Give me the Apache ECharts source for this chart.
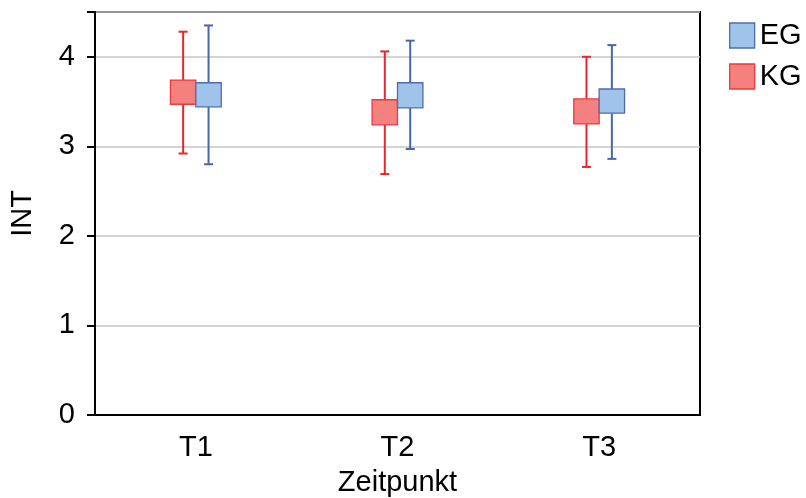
<!DOCTYPE html>
<html>
<head>
<meta charset="utf-8">
<script src="https://cdn.jsdelivr.net/npm/echarts@6/dist/echarts.min.js"></script>
<style>
html,body{margin:0;padding:0;background:#fff;}
#chart{width:806px;height:498px;}
</style>
</head>
<body>
<div id="chart"></div>
<script>
var categories = ['T1', 'T2', 'T3'];
var yTicks = [0, 1, 2, 3, 4];
// KG (Kontrollgruppe): box low/high, whisker low/high
var kgBoxLow = [3.47, 3.24, 3.25];
var kgBoxHigh = [3.74, 3.52, 3.53];
var kgWhiskerLow = [2.92, 2.69, 2.77];
var kgWhiskerHigh = [4.28, 4.06, 4.00];
// EG (Experimentalgruppe)
var egBoxLow = [3.44, 3.43, 3.37];
var egBoxHigh = [3.71, 3.71, 3.64];
var egWhiskerLow = [2.80, 2.97, 2.86];
var egWhiskerHigh = [4.35, 4.18, 4.13];

var KG = {fill: '#F4807F', border: '#EC3A3E', whisker: '#E8262B'};
var EG = {fill: '#A0C4E9', border: '#4D6CAF', whisker: '#4767AD'};

function buildData(lo, hi, wlo, whi) {
  return categories.map(function (c, i) { return [i, lo[i], hi[i], wlo[i], whi[i]]; });
}

function makeRender(offsetFrac, col) {
  return function (params, api) {
    var i = api.value(0);
    var bw = api.size([1, 0])[0];
    var cx = api.coord([i, 0])[0] + offsetFrac * bw;
    var boxW = bw * 0.126;
    var capW = 9;
    var yBoxLo = api.coord([i, api.value(1)])[1];
    var yBoxHi = api.coord([i, api.value(2)])[1];
    var yWLo = api.coord([i, api.value(3)])[1];
    var yWHi = api.coord([i, api.value(4)])[1];
    var ls = {stroke: col.whisker, lineWidth: 2};
    return {
      type: 'group',
      children: [
        {type: 'line', shape: {x1: cx, y1: yWHi, x2: cx, y2: yBoxHi}, style: ls},
        {type: 'line', shape: {x1: cx, y1: yBoxLo, x2: cx, y2: yWLo}, style: ls},
        {type: 'line', shape: {x1: cx - capW / 2, y1: yWHi, x2: cx + capW / 2, y2: yWHi}, style: ls},
        {type: 'line', shape: {x1: cx - capW / 2, y1: yWLo, x2: cx + capW / 2, y2: yWLo}, style: ls},
        {type: 'rect', shape: {x: cx - boxW / 2, y: yBoxHi, width: boxW, height: yBoxLo - yBoxHi},
         style: {fill: col.fill, stroke: col.border, lineWidth: 1.3}}
      ]
    };
  };
}

var chart = echarts.init(document.getElementById('chart'), null, {renderer: 'canvas'});
chart.setOption({
  animation: false,
  backgroundColor: '#fff',
  textStyle: {fontFamily: 'Liberation Sans, Arial, sans-serif'},
  grid: {left: 95, right: 106, top: 12, bottom: 83, containLabel: false, outerBoundsMode: 'none',
    show: true, borderColor: '#000', borderWidth: 2, backgroundColor: 'transparent'},
  legend: {
    orient: 'vertical', left: 724, top: 16, itemWidth: 25, itemHeight: 25, itemGap: 12, itemTextGap: 8,
    textStyle: {fontSize: 29, color: '#000', fontFamily: 'Liberation Sans, Arial, sans-serif'},
    data: [
      {name: 'EG', icon: 'rect', itemStyle: {color: EG.fill, borderColor: EG.border, borderWidth: 1.3}},
      {name: 'KG', icon: 'rect', itemStyle: {color: KG.fill, borderColor: KG.border, borderWidth: 1.3}}
    ]
  },
  xAxis: {
    type: 'category', data: categories,
    name: 'Zeitpunkt', nameLocation: 'middle', nameGap: 53,
    nameTextStyle: {fontSize: 29, color: '#000'},
    axisLine: {lineStyle: {color: '#000', width: 2}},
    axisTick: {alignWithLabel: true, length: 8, lineStyle: {color: '#000', width: 2}},
    axisLabel: {fontSize: 29, color: '#000', margin: 18},
    splitLine: {show: false}
  },
  yAxis: {
    type: 'value', min: 0, max: 4.5, interval: 1,
    name: 'INT', nameLocation: 'middle', nameGap: 58,
    nameTextStyle: {fontSize: 29, color: '#000'},
    axisLine: {show: true, lineStyle: {color: '#000', width: 2}},
    axisTick: {show: true, length: 8, lineStyle: {color: '#000', width: 2}},
    axisLabel: {fontSize: 29, color: '#000', margin: 20,
      formatter: function (v) { return yTicks.indexOf(v) >= 0 ? String(v) : ''; }},
    splitLine: {lineStyle: {color: '#C6C6C6', width: 1.5}}
  },
  series: [
    {name: 'KG', type: 'custom', renderItem: makeRender(-0.063, KG),
     itemStyle: {color: KG.fill, borderColor: KG.border},
     encode: {x: 0, y: [1, 2, 3, 4]}, data: buildData(kgBoxLow, kgBoxHigh, kgWhiskerLow, kgWhiskerHigh)},
    {name: 'EG', type: 'custom', renderItem: makeRender(0.063, EG),
     itemStyle: {color: EG.fill, borderColor: EG.border},
     encode: {x: 0, y: [1, 2, 3, 4]}, data: buildData(egBoxLow, egBoxHigh, egWhiskerLow, egWhiskerHigh)}
  ]
});
</script>
</body>
</html>
